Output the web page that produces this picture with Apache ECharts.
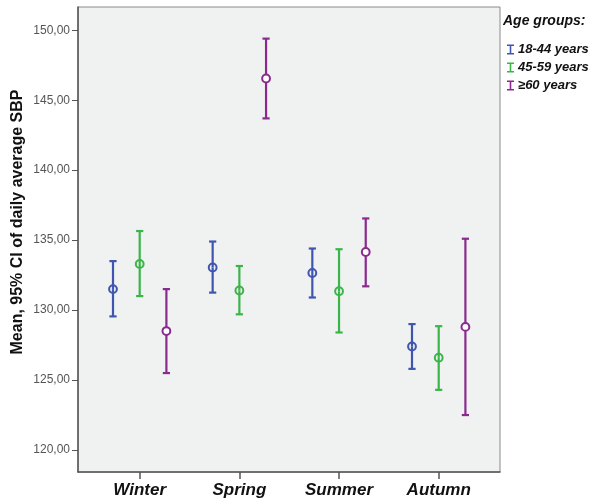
<!DOCTYPE html>
<html>
<head>
<meta charset="utf-8">
<script src="https://cdn.jsdelivr.net/npm/echarts@6/dist/echarts.min.js"></script>
<style>html,body{margin:0;padding:0;background:#fff;}#c{width:594px;height:503px;}</style>
</head>
<body>
<div id="c"></div>
<script>
var categories = ['Winter', 'Spring', 'Summer', 'Autumn'];
var seriesNames = ['18-44 years', '45-59 years', '\u226560 years'];
// mean, lower CI, upper CI per season
var mean1844 = [131.5, 133.05, 132.65, 127.4];
var low1844  = [129.55, 131.25, 130.9, 125.8];
var high1844 = [133.5, 134.9, 134.4, 129.0];
var mean4559 = [133.3, 131.4, 131.35, 126.6];
var low4559  = [131.0, 129.7, 128.4, 124.3];
var high4559 = [135.65, 133.15, 134.35, 128.85];
var mean60   = [128.5, 146.55, 134.15, 128.8];
var low60    = [125.5, 143.7, 131.7, 122.5];
var high60   = [131.5, 149.4, 136.55, 135.1];
var yTicks = [120, 125, 130, 135, 140, 145, 150];

var colors = ['#3f56b0', '#3bb54a', '#8a2a8e'];
var fills = ['none', 'none', '#ffffff'];
var offsets = [-26.7, 0, 26.7];

function build(means, lows, highs) {
  return categories.map(function (c, i) { return [i + 1, means[i], lows[i], highs[i]]; });
}
var dataSets = [
  build(mean1844, low1844, high1844),
  build(mean4559, low4559, high4559),
  build(mean60, low60, high60)
];

function makeRender(si) {
  return function (params, api) {
    var x = api.value(0);
    var pm = api.coord([x, api.value(1)]);
    var pl = api.coord([x, api.value(2)]);
    var ph = api.coord([x, api.value(3)]);
    var cx = pm[0] + offsets[si];
    var st = { stroke: colors[si], lineWidth: 2.2 };
    var r = 3.9;
    return {
      type: 'group',
      children: [
        { type: 'line', shape: { x1: cx, y1: ph[1], x2: cx, y2: pm[1] - (si === 2 ? r : 0) }, style: st },
        { type: 'line', shape: { x1: cx, y1: pm[1] + (si === 2 ? r : 0), x2: cx, y2: pl[1] }, style: st },
        { type: 'line', shape: { x1: cx - 3.6, y1: ph[1], x2: cx + 3.6, y2: ph[1] }, style: st },
        { type: 'line', shape: { x1: cx - 3.6, y1: pl[1], x2: cx + 3.6, y2: pl[1] }, style: st },
        { type: 'circle', shape: { cx: cx, cy: pm[1], r: r }, style: { stroke: colors[si], lineWidth: 2, fill: fills[si] } }
      ]
    };
  };
}

var chart = echarts.init(document.getElementById('c'), null, { renderer: 'canvas' });
var iconPath = 'path://M0,0 H7 V1.6 H4.3 V8.4 H7 V10 H0 V8.4 H2.7 V1.6 H0 Z';
chart.setOption({
  animation: false,
  color: colors,
  grid: { left: 78, top: 7, right: 94, bottom: 31, show: true, backgroundColor: '#f0f1f1', borderColor: '#8a8a8a', borderWidth: 1 },
  xAxis: {
    type: 'value', min: 0.381, max: 4.615,
    splitLine: { show: false },
    axisLine: { show: true, onZero: false, lineStyle: { color: '#555', width: 1.5 } },
    axisTick: { show: true, length: 7, customValues: [1, 2, 3, 4], lineStyle: { color: '#555', width: 1.5 } },
    axisLabel: {
      customValues: [1, 2, 3, 4], margin: 10,
      formatter: function (v) { return categories[Math.round(v) - 1] || ''; },
      fontFamily: 'Liberation Sans, Arial, sans-serif', fontSize: 17, fontWeight: 'bold', fontStyle: 'italic', color: '#111'
    }
  },
  yAxis: {
    type: 'value', min: 118.43, max: 151.66,
    splitLine: { show: false },
    axisLine: { show: true, lineStyle: { color: '#555', width: 1.5 } },
    axisTick: { show: true, length: 6, customValues: yTicks, lineStyle: { color: '#555', width: 1 } },
    axisLabel: {
      customValues: yTicks, margin: 8,
      formatter: function (v) { return v.toFixed(2).replace('.', ','); },
      fontFamily: 'Liberation Sans, Arial, sans-serif', fontSize: 12, color: '#555'
    }
  },
  legend: {
    orient: 'vertical', left: 502, top: 38, itemGap: 5, itemWidth: 7, itemHeight: 10,
    data: seriesNames.map(function (n, i) { return { name: n, icon: iconPath, itemStyle: { color: colors[i] } }; }),
    textStyle: { fontFamily: 'Liberation Sans, Arial, sans-serif', fontSize: 13, fontWeight: 'bold', fontStyle: 'italic', color: '#111', padding: [0, 0, 0, -1] },
    selectedMode: false
  },
  graphic: [
    { type: 'text', left: 503, top: 14, style: { text: 'Age groups:', font: 'italic bold 14px "Liberation Sans", Arial, sans-serif', fill: '#111' } },
    { type: 'text', x: 18, y: 222, rotation: Math.PI / 2, style: { text: 'Mean, 95% CI of daily average SBP', font: 'bold 16px "Liberation Sans", Arial, sans-serif', fill: '#111', align: 'center', verticalAlign: 'middle' } }
  ],
  series: dataSets.map(function (d, si) {
    return { type: 'custom', name: seriesNames[si], data: d, renderItem: makeRender(si), encode: { x: 0, y: [1, 2, 3] } };
  })
});
</script>
</body>
</html>
